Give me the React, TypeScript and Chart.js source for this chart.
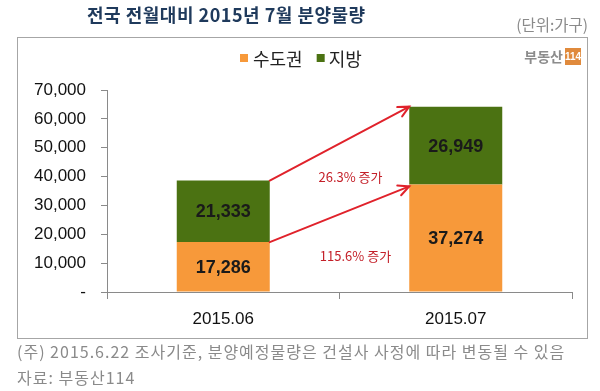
import React, { useEffect, useRef } from "react";
import { Chart, registerables } from "chart.js";

Chart.register(...registerables);

const categories = ["2015.06", "2015.07"];
const seriesNames = ["수도권", "지방"];
const metroValues = [17286, 37274];
const provinceValues = [21333, 26949];
const yMax = 70000;
const yStep = 10000;
const titleText = "전국 전월대비 2015년 7월 분양물량";
const unitText = "(단위:가구)";
const noteLines = [
  "(주) 2015.6.22 조사기준, 분양예정물량은 건설사 사정에 따라 변동될 수 있음",
  "자료: 부동산114",
];
const growthLabelValues = [40000, 12500]; // y positions (in value units) of the growth notes

const ORANGE = "#f7993a";
const GREEN = "#4b7212";
const RED = "#e0222b";
const KR = '"Noto Sans CJK KR", "Noto Sans", sans-serif';
const ARIAL = '"Liberation Sans", Arial, sans-serif';

function drawArrow(ctx: CanvasRenderingContext2D, x1: number, y1: number, x2: number, y2: number) {
  ctx.save();
  ctx.strokeStyle = RED;
  ctx.lineWidth = 2;
  ctx.lineCap = "round";
  ctx.beginPath();
  ctx.moveTo(x1, y1);
  ctx.lineTo(x2, y2);
  ctx.stroke();
  const ang = Math.atan2(y2 - y1, x2 - x1);
  const len = 12;
  const spread = 0.45;
  ctx.beginPath();
  ctx.moveTo(x2 - len * Math.cos(ang - spread), y2 - len * Math.sin(ang - spread));
  ctx.lineTo(x2, y2);
  ctx.lineTo(x2 - len * Math.cos(ang + spread), y2 - len * Math.sin(ang + spread));
  ctx.stroke();
  ctx.restore();
}

function setSpacing(ctx: any, px: number) {
  if ("letterSpacing" in ctx) ctx.letterSpacing = `${px}px`;
}

const decorPlugin = {
  id: "decor",
  beforeDraw(chart: any) {
    const ctx = chart.ctx as CanvasRenderingContext2D;
    ctx.save();
    ctx.fillStyle = "#ffffff";
    ctx.fillRect(0, 0, chart.width, chart.height);
    ctx.strokeStyle = "#a6a6a6";
    ctx.lineWidth = 1;
    ctx.strokeRect(17.5, 37.5, 570, 301);
    ctx.restore();
  },
  afterDatasetsDraw(chart: any) {
    const ctx = chart.ctx as CanvasRenderingContext2D;
    const y = chart.scales.y;
    const x = chart.scales.x;
    const m0 = chart.getDatasetMeta(0).data;
    const m1 = chart.getDatasetMeta(1).data;

    // segment value labels
    ctx.save();
    ctx.font = `bold 18px ${ARIAL}`;
    ctx.fillStyle = "#1a1a1a";
    ctx.textAlign = "center";
    ctx.textBaseline = "middle";
    [m0, m1].forEach((meta: any[], di: number) => {
      const vals = di === 0 ? metroValues : provinceValues;
      meta.forEach((el: any, i: number) => {
        const cy = (el.y + el.base) / 2 + 1;
        ctx.fillText(vals[i].toLocaleString("en-US"), el.x, cy);
      });
    });
    ctx.restore();

    // arrows
    const b0 = m0[0];
    const b1 = m0[1];
    const right0 = b0.x + b0.width / 2;
    const left1 = b1.x - b1.width / 2;
    const tot0 = metroValues[0] + provinceValues[0];
    const tot1 = metroValues[1] + provinceValues[1];
    drawArrow(ctx, right0, y.getPixelForValue(tot0), left1, y.getPixelForValue(tot1));
    drawArrow(ctx, right0, y.getPixelForValue(metroValues[0]), left1, y.getPixelForValue(metroValues[1]) + 2);

    // growth labels
    const midX = (x.getPixelForValue(0) + x.getPixelForValue(1)) / 2;
    const g1 = ((provinceValues[1] - provinceValues[0]) / provinceValues[0]) * 100;
    const g2 = ((metroValues[1] - metroValues[0]) / metroValues[0]) * 100;
    ctx.save();
    ctx.font = `13px ${KR}`;
    ctx.fillStyle = "#c42029";
    ctx.textAlign = "center";
    ctx.textBaseline = "middle";
    ctx.fillText(`${g1.toFixed(1)}% 증가`, midX + 11, y.getPixelForValue(growthLabelValues[0]));
    ctx.fillText(`${g2.toFixed(1)}% 증가`, midX + 16, y.getPixelForValue(growthLabelValues[1]));
    ctx.restore();
  },
  afterDraw(chart: any) {
    const ctx = chart.ctx as CanvasRenderingContext2D;
    ctx.save();
    // title
    ctx.font = `bold 18px ${KR}`;
    ctx.fillStyle = "#1f3a5c";
    ctx.textAlign = "left";
    ctx.textBaseline = "middle";
    setSpacing(ctx, 0.5);
    ctx.fillText(titleText, 87, 15);
    setSpacing(ctx, 0);
    // unit
    ctx.font = `15.5px ${KR}`;
    ctx.fillStyle = "#8a8a8a";
    ctx.textAlign = "right";
    ctx.fillText(unitText, 588, 25);
    // legend
    ctx.textAlign = "left";
    ctx.font = `18px ${KR}`;
    ctx.fillStyle = ORANGE;
    ctx.fillRect(240, 54, 8, 8);
    ctx.fillStyle = "#222222";
    ctx.fillText(seriesNames[0], 253, 59);
    const w0 = ctx.measureText(seriesNames[0]).width;
    const gx = 253 + w0 + 14;
    ctx.fillStyle = GREEN;
    ctx.fillRect(gx, 54, 8, 8);
    ctx.fillStyle = "#222222";
    ctx.fillText(seriesNames[1], gx + 12, 59);
    // logo
    ctx.font = `bold 14px ${KR}`;
    ctx.fillStyle = "#8c8c8c";
    ctx.textAlign = "right";
    ctx.fillText("부동산", 563, 57);
    ctx.fillStyle = "#e08a3c";
    ctx.fillRect(565, 48, 16, 17);
    ctx.fillStyle = "#ffffff";
    ctx.font = `bold 10px ${ARIAL}`;
    ctx.textAlign = "center";
    ctx.fillText("114", 573, 57);
    // notes
    ctx.font = `16px ${KR}`;
    ctx.fillStyle = "#8a8a8a";
    ctx.textAlign = "left";
    setSpacing(ctx, 1);
    ctx.fillText(noteLines[0], 17, 352);
    ctx.fillText(noteLines[1], 17, 378);
    setSpacing(ctx, 0);
    ctx.restore();
  },
};

export default function App() {
  const ref = useRef<HTMLCanvasElement>(null);
  useEffect(() => {
    if (!ref.current) return;
    const chart = new Chart(ref.current, {
      type: "bar",
      data: {
        labels: categories,
        datasets: [
          {
            label: seriesNames[0],
            data: metroValues,
            backgroundColor: ORANGE,
            categoryPercentage: 1,
            barPercentage: 0.4,
          },
          {
            label: seriesNames[1],
            data: provinceValues,
            backgroundColor: GREEN,
            categoryPercentage: 1,
            barPercentage: 0.4,
          },
        ],
      },
      options: {
        responsive: false,
        animation: false,
        devicePixelRatio: 1,
        layout: { padding: { left: 17, right: 28, top: 90, bottom: 59 } },
        plugins: {
          legend: { display: false },
          title: { display: false },
          tooltip: { enabled: false },
        },
        scales: {
          x: {
            stacked: true,
            offset: true,
            grid: {
              offset: true,
              drawOnChartArea: false,
              drawTicks: true,
              tickLength: 7,
              color: "#8a8a8a",
            },
            border: { color: "#8a8a8a", width: 1 },
            ticks: {
              font: { family: ARIAL, size: 17 },
              color: "#111111",
              padding: 10,
            },
            afterFit: (s: any) => {
              s.height = 40;
            },
          },
          y: {
            stacked: true,
            min: 0,
            max: yMax,
            grid: {
              drawOnChartArea: false,
              drawTicks: true,
              tickLength: 6,
              color: "#8a8a8a",
            },
            border: { color: "#8a8a8a", width: 1 },
            ticks: {
              stepSize: yStep,
              font: { family: ARIAL, size: 17 },
              color: "#111111",
              padding: 15,
              callback: (v: any) => (Number(v) === 0 ? "-" : Number(v).toLocaleString("en-US")),
            },
            afterFit: (s: any) => {
              s.width = 90;
            },
          },
        },
      },
      plugins: [decorPlugin],
    });
    return () => chart.destroy();
  }, []);
  return (
    <div style={{ position: "fixed", left: 0, top: 0, width: 600, height: 391 }}>
      <canvas ref={ref} width={600} height={391} style={{ width: 600, height: 391, display: "block" }} />
    </div>
  );
}
